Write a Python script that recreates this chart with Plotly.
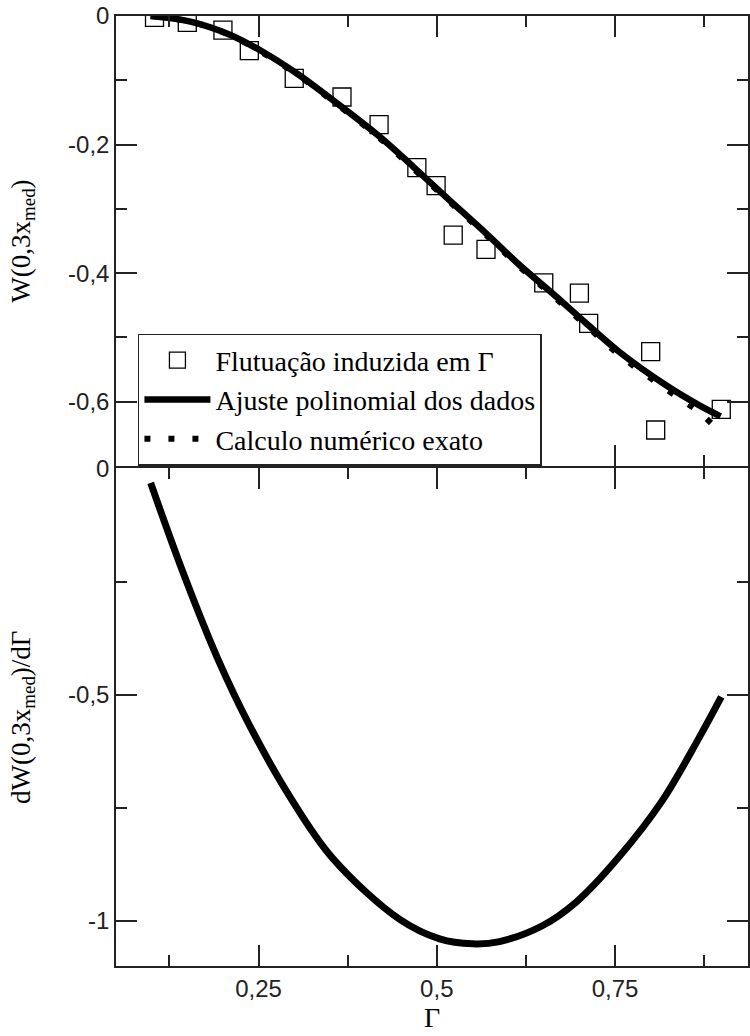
import plotly.graph_objects as go

# ---------------- data ----------------
gamma_pts = [0.104, 0.150, 0.200, 0.237, 0.300, 0.367, 0.419, 0.472, 0.499,
             0.523, 0.569, 0.650, 0.700, 0.713, 0.800, 0.807, 0.899]
w_pts = [-0.002, -0.010, -0.022, -0.054, -0.097, -0.126, -0.169, -0.236, -0.264,
         -0.341, -0.363, -0.415, -0.431, -0.478, -0.522, -0.644, -0.612]

gamma_fit = [0.0986, 0.1545, 0.2104, 0.257, 0.3037, 0.350, 0.420, 0.4667, 0.518,
             0.5694, 0.616, 0.6625, 0.709, 0.7557, 0.821, 0.8676, 0.898]
w_fit = [0.0, -0.0087, -0.0294, -0.0564, -0.0894, -0.1273, -0.1878, -0.2343, -0.2867,
         -0.3384, -0.3873, -0.4317, -0.4775, -0.5222, -0.574, -0.6052, -0.6227]

gamma_exact = [0.0986, 0.1545, 0.2104, 0.257, 0.3037, 0.350, 0.420, 0.4667, 0.518,
               0.5694, 0.616, 0.6625, 0.709, 0.7557, 0.821, 0.8676, 0.898]
w_exact = [0.0, -0.009, -0.030, -0.058, -0.091, -0.129, -0.190, -0.237, -0.289,
           -0.341, -0.390, -0.435, -0.481, -0.527, -0.580, -0.616, -0.648]

gamma_der = [0.0986, 0.145, 0.192, 0.238, 0.294, 0.354, 0.448, 0.504,
             0.550, 0.588, 0.648, 0.696, 0.756, 0.816, 0.868, 0.899]
dw_der = [-0.032, -0.234, -0.418, -0.570, -0.726, -0.862, -0.997, -1.040,
          -1.051, -1.046, -1.011, -0.958, -0.858, -0.735, -0.595, -0.505]

ytop_vals = [0, -0.2, -0.4, -0.6]
ytop_text = ["0", "-0,2", "-0,4", "-0,6"]
ybot_vals = [0, -0.5, -1]
ybot_text = ["0", "-0,5", "-1"]
x_vals = [0.25, 0.5, 0.75]
x_text = ["0,25", "0,5", "0,75"]

legend_names = ["Flutuação induzida em Γ", "Ajuste polinomial dos dados",
                "Calculo numérico exato"]

# ---------------- figure ----------------
fig = go.Figure()

fig.add_trace(go.Scatter(
    x=gamma_exact, y=w_exact, xaxis="x2", yaxis="y", mode="lines",
    line=dict(color="black", width=6, dash="6px,18px", shape="spline"),
    name=legend_names[2], legendrank=3))
fig.add_trace(go.Scatter(
    x=gamma_pts, y=w_pts, xaxis="x2", yaxis="y", mode="markers",
    marker=dict(symbol="square-open", size=18, color="black",
                line=dict(width=1.3, color="black")),
    name=legend_names[0], legendrank=1))
fig.add_trace(go.Scatter(
    x=gamma_fit, y=w_fit, xaxis="x2", yaxis="y", mode="lines",
    line=dict(color="black", width=6.5, shape="spline"),
    name=legend_names[1], legendrank=2))
fig.add_trace(go.Scatter(
    x=gamma_der, y=dw_der, xaxis="x", yaxis="y2", mode="lines",
    line=dict(color="black", width=7, shape="spline"),
    showlegend=False))

axis_common = dict(showline=True, linecolor="#222", linewidth=1.5, mirror="ticks",
                   ticks="inside", tickcolor="#222", tickwidth=1.5, ticklen=21,
                   showgrid=False, zeroline=False,
                   tickfont=dict(family="Liberation Sans", size=24, color="#222"))

xr = [0.05, 0.9365]
fig.update_layout(
    width=750, height=1036,
    margin=dict(l=116, r=0, t=16, b=70),
    paper_bgcolor="white", plot_bgcolor="white",
    xaxis=dict(domain=[0, 1], anchor="y2", range=xr, tickmode="array",
               tickvals=x_vals, ticktext=x_text,
               minor=dict(dtick=0.125, tick0=0, ticks="inside", ticklen=11,
                          tickwidth=1.5, tickcolor="#222"),
               title=dict(text="Γ", font=dict(family="Liberation Serif", size=28,
                                              color="black"), standoff=4),
               **axis_common),
    xaxis2=dict(domain=[0, 1], anchor="y", matches="x", range=xr, tickmode="array",
                tickvals=x_vals, ticktext=x_text, showticklabels=False,
                minor=dict(dtick=0.125, tick0=0, ticks="inside", ticklen=11,
                           tickwidth=1.5, tickcolor="#222"),
                **axis_common),
    yaxis=dict(domain=[0.5263, 1], anchor="x2", range=[-0.7, 0], tickmode="array",
               tickvals=ytop_vals, ticktext=ytop_text,
               minor=dict(dtick=0.1, tick0=0, ticks="inside", ticklen=11,
                          tickwidth=1.5, tickcolor="#222"),
               title=dict(text="W(0,3x<sub>med</sub>)",
                          font=dict(family="Liberation Serif", size=27, color="black"),
                          standoff=30),
               **axis_common),
    yaxis2=dict(domain=[0, 0.5237], anchor="x", range=[-1.1, 0], tickmode="array",
                tickvals=ybot_vals, ticktext=ybot_text,
                minor=dict(dtick=0.25, tick0=0, ticks="inside", ticklen=11,
                           tickwidth=1.5, tickcolor="#222"),
                title=dict(text="dW(0,3x<sub>med</sub>)/dΓ",
                           font=dict(family="Liberation Serif", size=27, color="black"),
                           standoff=30),
                **axis_common),
    legend=dict(x=0.0347, y=0.5265, xanchor="left", yanchor="bottom",
                bgcolor="white", bordercolor="#222", borderwidth=1.5,
                font=dict(family="Liberation Serif", size=28, color="black"),
                itemwidth=66, tracegroupgap=0),
    showlegend=True,
)

fig.write_html("out.html")
